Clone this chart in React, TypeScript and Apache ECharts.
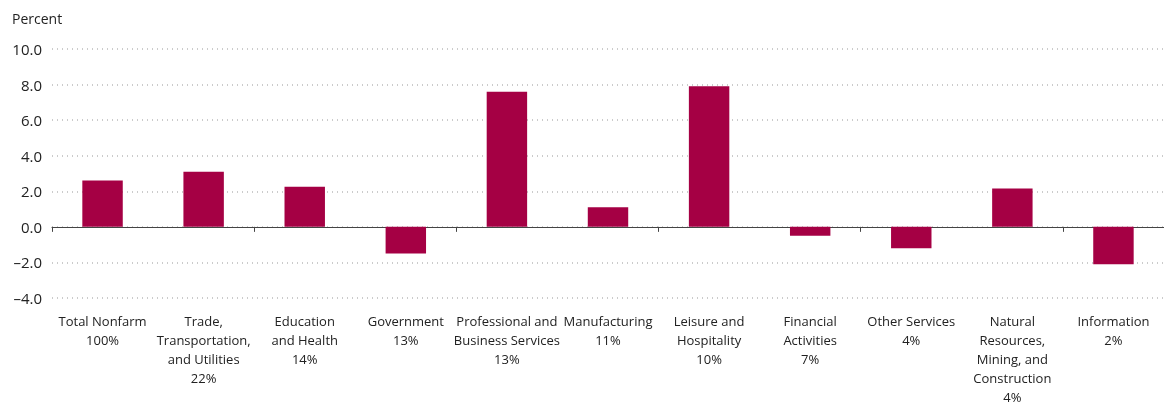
import React, { useEffect, useRef } from "react";
import * as echarts from "echarts";

const categories = [
  "Total Nonfarm\n100%",
  "Trade,\nTransportation,\nand Utilities\n22%",
  "Education\nand Health\n14%",
  "Government\n13%",
  "Professional and\nBusiness Services\n13%",
  "Manufacturing\n11%",
  "Leisure and\nHospitality\n10%",
  "Financial\nActivities\n7%",
  "Other Services\n4%",
  "Natural\nResources,\nMining, and\nConstruction\n4%",
  "Information\n2%",
];
const values = [2.6, 3.1, 2.25, -1.5, 7.6, 1.1, 7.9, -0.5, -1.2, 2.15, -2.1];

export default function App() {
  const ref = useRef<HTMLDivElement>(null);
  useEffect(() => {
    const chart = echarts.init(ref.current!, null, { renderer: "svg" });
    const font = "Open Sans";
    chart.setOption({
      animation: false,
      textStyle: { fontFamily: font },
      grid: { left: 52, right: -4, top: 49, bottom: 107, containLabel: false },
      xAxis: [
        {
          type: "category",
          data: categories,
          position: "bottom",
          axisLine: { show: false, onZero: false },
          axisTick: { show: false },
          axisLabel: { interval: 0, color: "#222", fontSize: 13, lineHeight: 19, margin: 13, fontFamily: font },
        },
        {
          type: "category",
          data: categories,
          position: "bottom",
          axisLine: { show: true, onZero: true, lineStyle: { color: "#444", width: 1 } },
          axisTick: { show: true, length: 5, inside: false, lineStyle: { color: "#444" } },
          axisLabel: { show: false },
        },
      ],
      yAxis: {
        type: "value",
        min: -4,
        max: 10,
        interval: 2,
        name: "Percent",
        nameLocation: "end",
        nameGap: 24,
        nameTextStyle: { align: "left", padding: [0, 0, 0, -40], color: "#222", fontSize: 14, fontFamily: font },
        axisLine: { show: false },
        axisTick: { show: false },
        axisLabel: {
          color: "#222",
          fontSize: 15,
          margin: 10,
          fontFamily: font,
          formatter: (v: number) => (v < 0 ? "\u2013" + Math.abs(v).toFixed(1) : v.toFixed(1)),
        },
        splitLine: { show: true, lineStyle: { color: "#bbb", type: [1, 4], width: 1.5 } },
      },
      series: [
        {
          type: "bar",
          data: values,
          xAxisIndex: 0,
          barCategoryGap: "60%",
          itemStyle: { color: "#A50044" },
        },
      ],
    });
    return () => chart.dispose();
  }, []);
  return (
    <div style={{ position: "fixed", left: 0, top: 0 }}>
      <div ref={ref} style={{ width: 1164, height: 406 }} />
    </div>
  );
}
